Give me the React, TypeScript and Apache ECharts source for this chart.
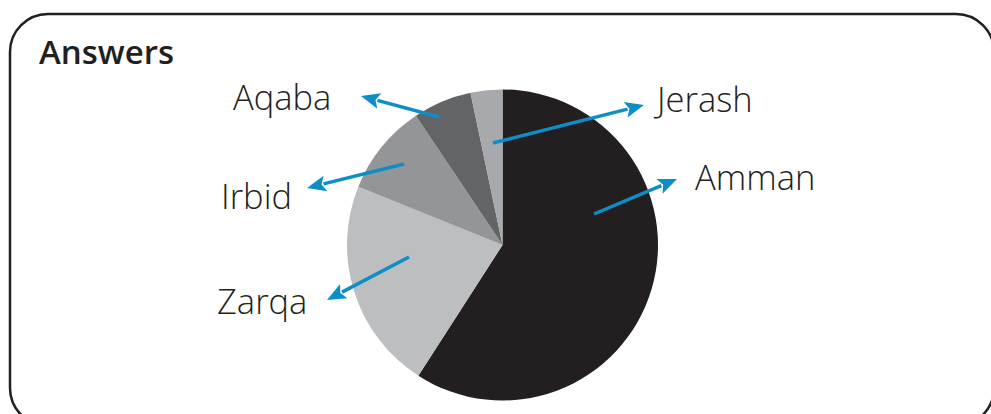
import React, { useEffect, useRef } from "react";
import * as echarts from "echarts";

const categories = ["Amman", "Zarqa", "Irbid", "Aqaba", "Jerash"];
const values = [59.1, 22.0, 9.5, 6.1, 3.3];
const sliceColors = ["#231f20", "#bcbec0", "#939598", "#636466", "#a7a9ac"];
const titleText = "Answers";

// annotation layout (pixels): arrow start, arrow tip, label left x, label baseline y
const annotationLayout: Record<string, { from: [number, number]; to: [number, number]; lx: number; ly: number }> = {
  Amman: { from: [594, 214], to: [677, 179], lx: 695, ly: 188 },
  Zarqa: { from: [409, 257], to: [327, 300], lx: 217, ly: 312 },
  Irbid: { from: [404, 164], to: [307, 188], lx: 221, ly: 207 },
  Aqaba: { from: [439, 117], to: [361, 96], lx: 233, ly: 108 },
  Jerash: { from: [493, 143], to: [644, 105], lx: 657, ly: 110 },
};

const ARROW_COLOR = "#0e8ec6";
const FONT = "'Open Sans', Lato, sans-serif";

function arrow(from: [number, number], to: [number, number]) {
  const dx = to[0] - from[0];
  const dy = to[1] - from[1];
  const len = Math.sqrt(dx * dx + dy * dy);
  const ux = dx / len;
  const uy = dy / len;
  const headLen = 19;
  const headHalf = 8;
  const bx = to[0] - ux * headLen;
  const by = to[1] - uy * headLen;
  const px = -uy;
  const py = ux;
  return [
    {
      type: "line",
      shape: { x1: from[0], y1: from[1], x2: bx + ux * 2, y2: by + uy * 2 },
      style: { stroke: ARROW_COLOR, lineWidth: 3.5 },
      z: 10,
    },
    {
      type: "polygon",
      shape: {
        points: [
          [to[0], to[1]],
          [bx + px * headHalf, by + py * headHalf],
          [bx + ux * 4, by + uy * 4],
          [bx - px * headHalf, by - py * headHalf],
        ],
      },
      style: { fill: ARROW_COLOR },
      z: 10,
    },
  ];
}

export default function App() {
  const ref = useRef<HTMLDivElement>(null);
  useEffect(() => {
    document.body.style.margin = "0";
    if (!ref.current) return;
    const chart = echarts.init(ref.current, undefined, { renderer: "svg" });
    const graphics: any[] = [
      {
        type: "rect",
        shape: { x: 10, y: 14, width: 984, height: 412, r: 38 },
        style: { fill: "none", stroke: "#231f20", lineWidth: 2.5 },
        z: 1,
      },
      {
        type: "text",
        x: 39,
        y: 51,
        style: {
          text: titleText,
          fontFamily: FONT,
          fontWeight: 600,
          fontSize: 33,
          fill: "#231f20",
          verticalAlign: "middle",
        },
        z: 10,
      },
    ];
    categories.forEach((name) => {
      const a = annotationLayout[name];
      graphics.push(...arrow(a.from, a.to));
      graphics.push({
        type: "text",
        x: a.lx,
        y: a.ly - 11.5,
        style: {
          text: name,
          fontFamily: FONT,
          fontWeight: 300,
          fontSize: 34.5,
          fill: "#231f20",
          verticalAlign: "middle",
        },
        z: 10,
      });
    });
    chart.setOption({
      animation: false,
      backgroundColor: "#ffffff",
      series: [
        {
          type: "pie",
          center: [502.5, 245],
          radius: 155.5,
          startAngle: 90,
          clockwise: true,
          label: { show: false },
          labelLine: { show: false },
          emphasis: { disabled: true },
          itemStyle: { borderWidth: 0 },
          data: categories.map((c, i) => ({ name: c, value: values[i], itemStyle: { color: sliceColors[i] } })),
          z: 2,
        },
      ],
      graphic: graphics,
    });
    return () => chart.dispose();
  }, []);
  return <div ref={ref} style={{ width: 991, height: 414 }} />;
}
